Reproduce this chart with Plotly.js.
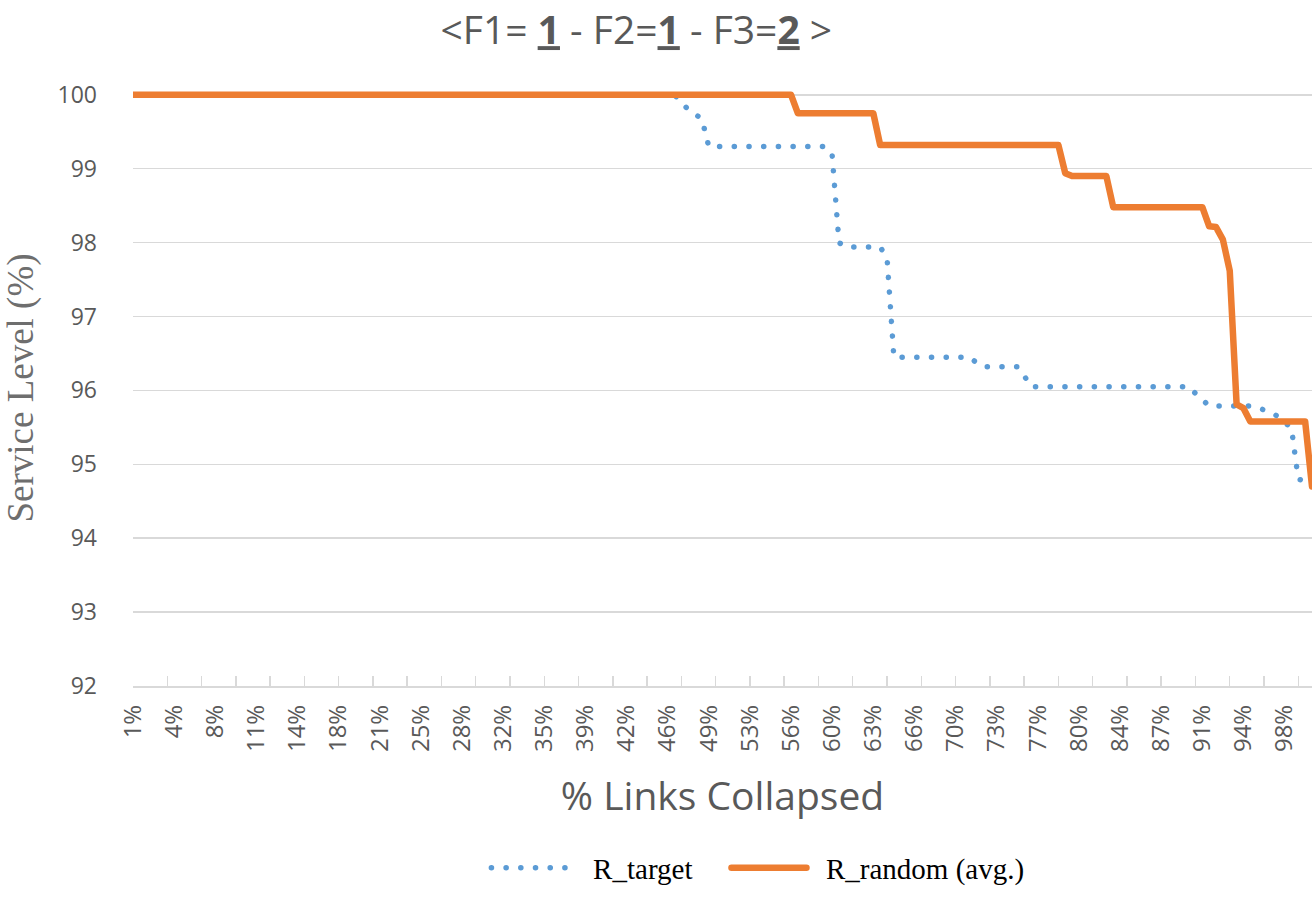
<!DOCTYPE html>
<html>
<head>
<meta charset="utf-8">
<script src="https://cdn.plot.ly/plotly-3.0.1.min.js"></script>
<style>
  html, body { margin: 0; padding: 0; background: #ffffff; }
  #chart { width: 1312px; height: 897px; }
  .js-line { stroke-linecap: round !important; stroke-linejoin: round !important; }
</style>
</head>
<body>
<div id="chart"></div>
<script>
// Number of links collapsed (category index, 173 categories)
var linkIndex = [];
for (var k = 1; k <= 173; k++) { linkIndex.push(k); }

// Tick labels shown on the category axis (every 6th category)
var tickPositions = [1,7,13,19,25,31,37,43,49,55,61,67,73,79,85,91,97,103,109,115,121,127,133,139,145,151,157,163,169];
var tickLabels = ['1%','4%','8%','11%','14%','18%','21%','25%','28%','32%','35%','39%','42%','46%','49%','53%','56%','60%','63%','66%','70%','73%','77%','80%','84%','87%','91%','94%','98%'];

// Series names
var seriesNames = ['R_target', 'R_random (avg.)'];

// R_target series
var rTarget = [
  100,100,100,100,100,100,100,100,100,100,
  100,100,100,100,100,100,100,100,100,100,
  100,100,100,100,100,100,100,100,100,100,
  100,100,100,100,100,100,100,100,100,100,
  100,100,100,100,100,100,100,100,100,100,
  100,100,100,100,100,100,100,100,100,100,
  100,100,100,100,100,100,100,100,100,100,
  100,100,100,100,100,100,100,100,100,100,
  99.9,99.8,99.74,99.67,
  99.3,99.3,99.3,99.3,99.3,99.3,99.3,99.3,99.3,99.3,99.3,99.3,99.3,99.3,99.3,99.3,99.3,99.3,
  99.18,98.0,
  97.94,97.94,97.94,97.94,97.94,97.94,
  97.8,
  96.45,96.45,96.45,96.45,96.45,96.45,96.45,96.45,96.45,96.45,96.45,96.45,
  96.38,
  96.32,96.32,96.32,96.32,96.32,96.32,
  96.2,
  96.05,96.05,96.05,96.05,96.05,96.05,96.05,96.05,96.05,96.05,96.05,96.05,
  96.05,96.05,96.05,96.05,96.05,96.05,96.05,96.05,96.05,96.05,96.05,96.05,
  95.96,95.87,
  95.79,95.79,95.79,95.79,95.79,95.79,95.79,
  95.77,95.74,95.70,95.65,95.57,95.49,94.8,94.76,94.74
];

// R_random (avg.) series
var rRandom = [
  100,100,100,100,100,100,100,100,100,100,
  100,100,100,100,100,100,100,100,100,100,
  100,100,100,100,100,100,100,100,100,100,
  100,100,100,100,100,100,100,100,100,100,
  100,100,100,100,100,100,100,100,100,100,
  100,100,100,100,100,100,100,100,100,100,
  100,100,100,100,100,100,100,100,100,100,
  100,100,100,100,100,100,100,100,100,100,
  100,100,100,100,100,100,100,100,100,100,
  100,100,100,100,100,100,100,
  99.75,99.75,99.75,99.75,99.75,99.75,99.75,99.75,99.75,99.75,99.75,99.75,
  99.32,99.32,99.32,99.32,99.32,99.32,99.32,99.32,99.32,99.32,
  99.32,99.32,99.32,99.32,99.32,99.32,99.32,99.32,99.32,99.32,
  99.32,99.32,99.32,99.32,99.32,99.32,99.32,
  98.94,
  98.9,98.9,98.9,98.9,98.9,98.9,
  98.48,98.48,98.48,98.48,98.48,98.48,98.48,98.48,98.48,98.48,98.48,98.48,98.48,98.48,
  98.22,98.21,98.04,97.62,95.81,95.76,
  95.58,95.58,95.58,95.58,95.58,95.58,95.58,95.58,95.58,
  94.7
];

var grey = '#595959';
var nb = '\u00a0';

var traces = [
  {
    x: linkIndex, y: rTarget, name: nb + nb + nb + seriesNames[0] + nb + nb + nb + nb,
    type: 'scatter', mode: 'lines', xaxis: 'x', yaxis: 'y',
    line: { color: '#5B9BD5', width: 5.5, dash: '0.1px,14.6px' }
  },
  {
    x: linkIndex, y: rRandom, name: nb + nb + seriesNames[1],
    type: 'scatter', mode: 'lines', xaxis: 'x2', yaxis: 'y',
    line: { color: '#ED7D31', width: 6.5 }
  }
];

var layout = {
  width: 1312, height: 897,
  margin: { l: 133, r: 0, t: 90, b: 211, pad: 0 },
  paper_bgcolor: '#ffffff', plot_bgcolor: '#ffffff',
  font: { family: 'Open Sans, sans-serif', color: grey },
  title: {
    text: '&lt;F1= <b><u>1</u></b> - F2=<b><u>1</u></b> - F3=<b><u>2</u></b> &gt;',
    font: { family: 'Open Sans, sans-serif', size: 39, color: grey },
    x: 0.485, xref: 'container', xanchor: 'center',
    y: 0.966, yref: 'container', yanchor: 'middle'
  },
  xaxis: {
    range: [1, 173], showgrid: false, zeroline: false,
    showline: true, linecolor: '#d9d9d9', linewidth: 1.5,
    tickmode: 'linear', tick0: 1, dtick: 5,
    ticks: 'inside', ticklen: 10, tickwidth: 1.5, tickcolor: '#d9d9d9',
    showticklabels: false, fixedrange: true
  },
  xaxis2: {
    overlaying: 'x', anchor: 'y', side: 'bottom',
    range: [1, 173], showgrid: false, zeroline: false, showline: false,
    tickmode: 'array', tickvals: tickPositions, ticktext: tickLabels,
    ticks: '', tickangle: -90, ticklabelstandoff: 13,
    tickfont: { family: 'Open Sans, sans-serif', size: 24, color: grey },
    title: { text: '% Links Collapsed', font: { family: 'Open Sans, sans-serif', size: 39, color: grey }, standoff: 31 },
    fixedrange: true
  },
  yaxis: {
    range: [92, 100.065], tickmode: 'linear', tick0: 92, dtick: 1,
    showgrid: true, gridcolor: '#d9d9d9', gridwidth: 1.5,
    zeroline: false, showline: false, ticks: '', ticklabelstandoff: 35,
    tickfont: { family: 'Open Sans, sans-serif', size: 23, color: grey },
    title: { text: 'Service Level (%)', font: { family: 'Liberation Serif, Times New Roman, serif', size: 37, color: '#6e6e6e' }, standoff: 16 },
    fixedrange: true
  },
  showlegend: true,
  legend: {
    orientation: 'h', x: 0.53, xanchor: 'center', y: -0.305, yanchor: 'middle',
    font: { family: 'Liberation Serif, Times New Roman, serif', size: 29, color: '#000000' },
    itemwidth: 75, traceorder: 'normal', bgcolor: 'rgba(0,0,0,0)'
  }
};

Plotly.newPlot('chart', traces, layout, { displayModeBar: false, staticPlot: true });
</script>
</body>
</html>
